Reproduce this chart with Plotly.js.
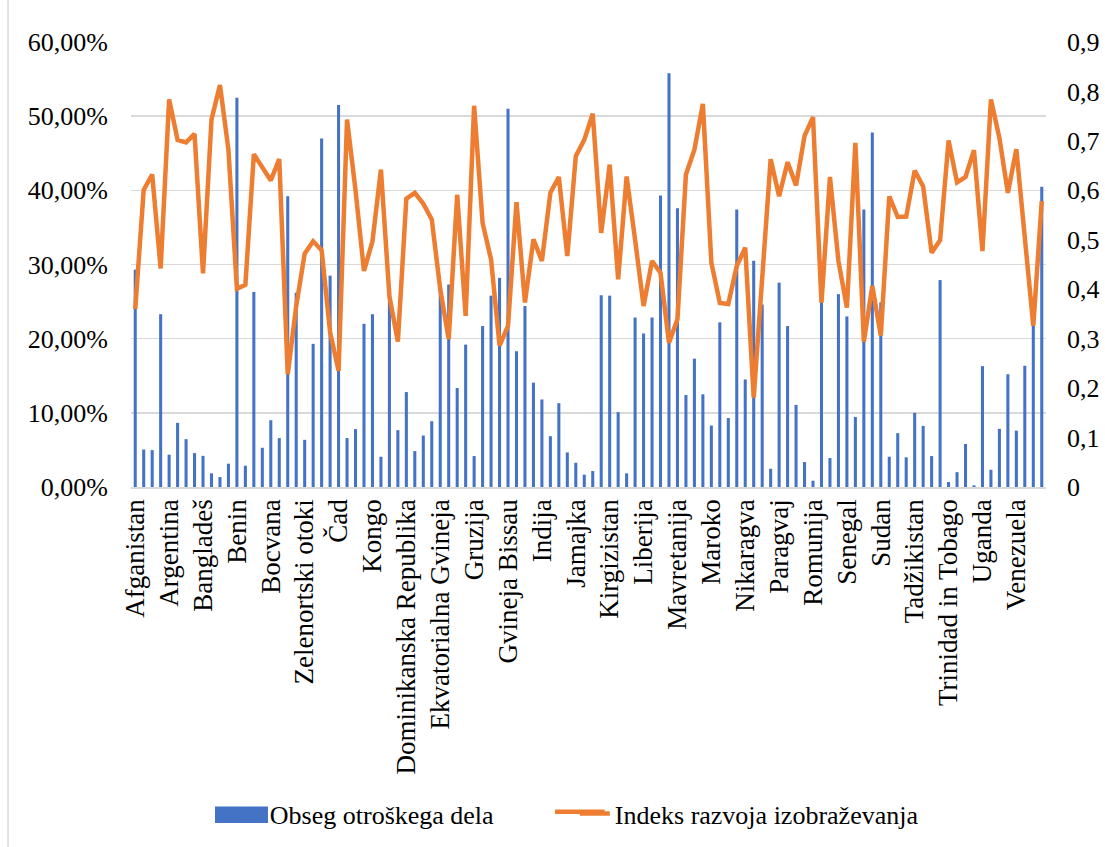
<!DOCTYPE html>
<html>
<head>
<meta charset="utf-8">
<script src="https://cdn.plot.ly/plotly-3.0.1.min.js"></script>
<style>
  html, body { margin: 0; padding: 0; background: #ffffff; }
  #chart { width: 1105px; height: 847px; }
</style>
</head>
<body>
<div id="chart"></div>
<script>
// Categories (countries); every 4th is shown as a tick label
const countries = [
  "Afganistan","Albanija","Alžirija","Angola","Argentina","Armenija","Azerbajdžan","Bahrajn",
  "Bangladeš","Barbados","Belorusija","Belize","Benin","Butan","Bolivija","Bosna in Hercegovina",
  "Bocvana","Brazilija","Burkina Faso","Burundi","Zelenortski otoki","Kambodža","Kamerun","Srednjeafriška republika",
  "Čad","Čile","Kolumbija","Komori","Kongo","DR Kongo","Kostarika","Slonokoščena obala",
  "Dominikanska Republika","Ekvador","Egipt","Salvador","Ekvatorialna Gvineja","Eritreja","Etiopija","Gambija",
  "Gruzija","Gana","Gvatemala","Gvineja","Gvineja Bissau","Gvajana","Haiti","Honduras",
  "Indija","Indonezija","Iran","Irak","Jamajka","Jordanija","Kazahstan","Kenija",
  "Kirgizistan","Laos","Libanon","Lesoto","Liberija","Madagaskar","Malavi","Mali",
  "Mavretanija","Mehika","Moldavija","Mongolija","Maroko","Mozambik","Namibija","Nepal",
  "Nikaragva","Niger","Nigerija","Panama","Paragvaj","Peru","Filipini","Katar",
  "Romunija","Ruanda","Sveta Lucija","Sao Tome in Principe","Senegal","Srbija","Sierra Leone","Somalija",
  "Sudan","Surinam","Svazi","Sirija","Tadžikistan","Tanzanija","Tajska","Togo",
  "Trinidad in Tobago","Tunizija","Turčija","Turkmenistan","Uganda","Ukrajina","Urugvaj","Uzbekistan",
  "Venezuela","Vietnam","Jemen","Zambija"
];

// Obseg otroškega dela (share, %)
const childLabourPct = [
  29.3, 5.06, 4.97, 23.3, 4.35, 8.65, 6.45, 4.57, 4.2, 1.84, 1.34, 3.14,
  52.5, 2.87, 26.3, 5.29, 9.0, 6.59, 39.2, 26.2, 6.36, 19.3, 47.0, 28.5,
  51.5, 6.6, 7.8, 22.0, 23.3, 4.08, 25.8, 7.66, 12.8, 4.84, 6.94, 8.87,
  27.0, 27.3, 13.35, 19.2, 4.17, 21.7, 25.8, 28.2, 51.0, 18.3, 24.4, 14.07,
  11.8, 6.85, 11.3, 4.66, 3.27, 1.66, 2.15, 25.85, 25.8, 10.1, 1.84, 22.85,
  20.7, 22.85, 39.3, 55.8, 37.6, 12.4, 17.3, 12.5, 8.29, 22.2, 9.3, 37.4,
  14.5, 30.5, 24.6, 2.46, 27.55, 21.7, 11.07, 3.36, 0.85, 24.9, 3.9, 26.0,
  23.0, 9.45, 37.4, 47.8, 24.9, 4.08, 7.26, 4.0, 10.0, 8.24, 4.17, 27.9,
  0.67, 2.0, 5.8, 0.22, 16.3, 2.33, 7.84, 15.2, 7.6, 16.35, 22.5, 40.5
];

// Indeks razvoja izobraževanja
const educationIndex = [
  0.36, 0.601, 0.632, 0.442, 0.784, 0.702, 0.697, 0.714, 0.432, 0.743, 0.813, 0.682,
  0.401, 0.409, 0.673, 0.648, 0.620, 0.663, 0.228, 0.366, 0.472, 0.497, 0.479, 0.313,
  0.235, 0.743, 0.60, 0.437, 0.497, 0.642, 0.386, 0.294, 0.583, 0.595, 0.573, 0.541,
  0.40, 0.299, 0.591, 0.346, 0.771, 0.534, 0.460, 0.286, 0.326, 0.576, 0.373, 0.501,
  0.457, 0.595, 0.627, 0.467, 0.669, 0.702, 0.755, 0.514, 0.652, 0.42, 0.628, 0.50,
  0.366, 0.457, 0.433, 0.292, 0.339, 0.632, 0.682, 0.775, 0.454, 0.372, 0.37, 0.447,
  0.484, 0.181, 0.42, 0.663, 0.588, 0.657, 0.61, 0.71, 0.748, 0.373, 0.627, 0.457,
  0.363, 0.696, 0.294, 0.407, 0.306, 0.588, 0.546, 0.547, 0.64, 0.608, 0.474, 0.499,
  0.701, 0.616, 0.627, 0.681, 0.477, 0.784, 0.706, 0.595, 0.683, 0.507, 0.326, 0.578
];

const seriesNames = ["Obseg otroškega dela", "Indeks razvoja izobraževanja"];
const labelEvery = 4;

const tickVals = countries.filter((c, i) => i % labelEvery === 0);
const fontFam = "Liberation Serif";
const barColor = '#4472C4';
const lineColor = '#ED7D31';

const traces = [
  {
    type: 'bar',
    name: seriesNames[0],
    x: countries,
    y: childLabourPct.map(v => v / 100),
    marker: { color: barColor },
    yaxis: 'y',
    hoverinfo: 'x+y'
  },
  {
    type: 'scatter',
    mode: 'lines',
    name: seriesNames[1],
    x: countries,
    y: educationIndex,
    line: { color: lineColor, width: 4.5, shape: 'linear' },
    yaxis: 'y2'
  }
];

const layout = {
  width: 1105,
  height: 847,
  margin: { l: 131, r: 59, t: 42, b: 359 },
  paper_bgcolor: '#ffffff',
  plot_bgcolor: '#ffffff',
  separators: ', ',
  font: { family: fontFam, size: 26, color: '#000000' },
  bargap: 0.64,
  showlegend: true,
  xaxis: {
    type: 'category',
    categoryorder: 'array',
    categoryarray: countries,
    range: [-0.5, countries.length - 0.5],
    tickmode: 'array',
    tickvals: tickVals,
    ticktext: tickVals,
    tickangle: -90,
    tickfont: { family: fontFam, size: 27, color: '#000000' },
    ticks: '',
    showgrid: false,
    showline: true,
    linecolor: '#d9d9d9',
    linewidth: 1.5,
    zeroline: false,
    fixedrange: true
  },
  yaxis: {
    range: [0, 0.6],
    tickmode: 'linear',
    tick0: 0,
    dtick: 0.1,
    tickformat: '.2%',
    showgrid: true,
    gridcolor: '#d9d9d9',
    gridwidth: 1.5,
    zeroline: false,
    showline: false,
    ticks: '',
    ticklabelstandoff: 22,
    tickfont: { family: fontFam, size: 26, color: '#000000' }
  },
  yaxis2: {
    overlaying: 'y',
    side: 'right',
    range: [0, 0.9],
    tickmode: 'linear',
    tick0: 0,
    dtick: 0.1,
    showgrid: false,
    zeroline: false,
    showline: false,
    ticks: '',
    ticklabelstandoff: 20,
    tickfont: { family: fontFam, size: 26, color: '#000000' }
  },
  legend: {
    orientation: 'h',
    x: 0.108,
    xanchor: 'left',
    y: -0.73,
    yanchor: 'middle',
    entrywidth: 300,
    entrywidthmode: 'pixels',
    font: { family: fontFam, size: 26, color: '#000000' },
    bgcolor: 'rgba(0,0,0,0)',
    traceorder: 'normal'
  },
  shapes: [
    {
      type: 'line', xref: 'paper', yref: 'paper',
      x0: -0.1344, x1: -0.1344, y0: -0.81, y1: 1.1,
      line: { color: '#d9d9d9', width: 1.5 }
    },
    // wider legend keys, as in the original legend
    {
      type: 'rect', xref: 'paper', yref: 'paper', layer: 'above',
      x0: 0.0918, x1: 0.1497, y0: -0.755, y1: -0.718,
      fillcolor: barColor, line: { width: 0 }
    },
    {
      type: 'line', xref: 'paper', yref: 'paper', layer: 'above',
      x0: 0.4634, x1: 0.5176, y0: -0.73, y1: -0.73,
      line: { color: lineColor, width: 4.5 }
    }
  ]
};

Plotly.newPlot('chart', traces, layout, { displayModeBar: false, staticPlot: true });
</script>
</body>
</html>
